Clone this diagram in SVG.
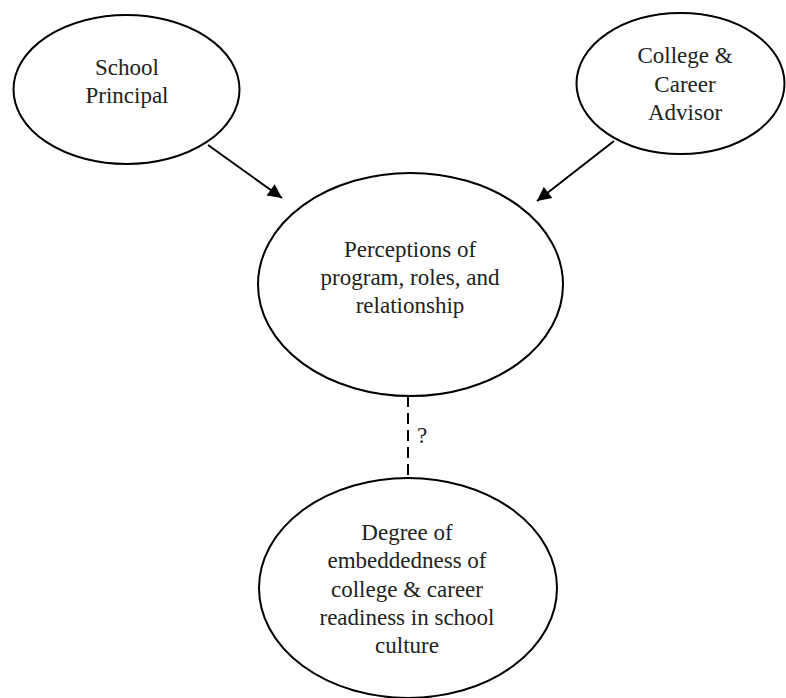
<svg xmlns="http://www.w3.org/2000/svg" width="786" height="698" viewBox="0 0 786 698">
<style>
.n{fill:#fff;stroke:#000;stroke-width:2}
.t{font-family:"Liberation Serif","Times New Roman",serif;font-size:23px;fill:#222;text-anchor:middle}
.c{stroke:#000;stroke-width:2;fill:none}
</style>
<defs>
<marker id="ah" viewBox="0 0 10 10" refX="10" refY="5" markerWidth="7.5" markerHeight="7" orient="auto" markerUnits="strokeWidth">
<path d="M0,0 L10,5 L0,10 z" fill="#000"/>
</marker>
</defs>
<rect width="786" height="698" fill="#fff"/>
<g id="principal">
<ellipse class="n" cx="126.5" cy="89.5" rx="113" ry="74.5"/>
<text class="t" x="127" y="75">School</text>
<text class="t" x="127" y="103">Principal</text>
</g>
<g id="advisor">
<ellipse class="n" cx="680.5" cy="83.5" rx="104" ry="70.5"/>
<text class="t" x="685" y="63">College &amp;</text>
<text class="t" x="685" y="92">Career</text>
<text class="t" x="685" y="120">Advisor</text>
</g>
<g id="perceptions">
<ellipse class="n" cx="410.5" cy="284.5" rx="152.5" ry="111.5"/>
<text class="t" x="410" y="257">Perceptions of</text>
<text class="t" x="410" y="285">program, roles, and</text>
<text class="t" x="410" y="313">relationship</text>
</g>
<g id="embeddedness">
<ellipse class="n" cx="408" cy="588" rx="149" ry="110"/>
<text class="t" x="407" y="540">Degree of</text>
<text class="t" x="407" y="568">embeddedness of</text>
<text class="t" x="407" y="597">college &amp; career</text>
<text class="t" x="407" y="625">readiness in school</text>
<text class="t" x="407" y="653">culture</text>
</g>
<g id="connectors">
<line class="c" x1="208" y1="145" x2="282" y2="198" marker-end="url(#ah)"/>
<line class="c" x1="614" y1="141" x2="537" y2="201" marker-end="url(#ah)"/>
<line class="c" x1="408" y1="396" x2="408" y2="478" stroke-width="2.5" stroke-dasharray="11,6"/>
<text class="t" x="422" y="443">?</text>
</g>
</svg>
